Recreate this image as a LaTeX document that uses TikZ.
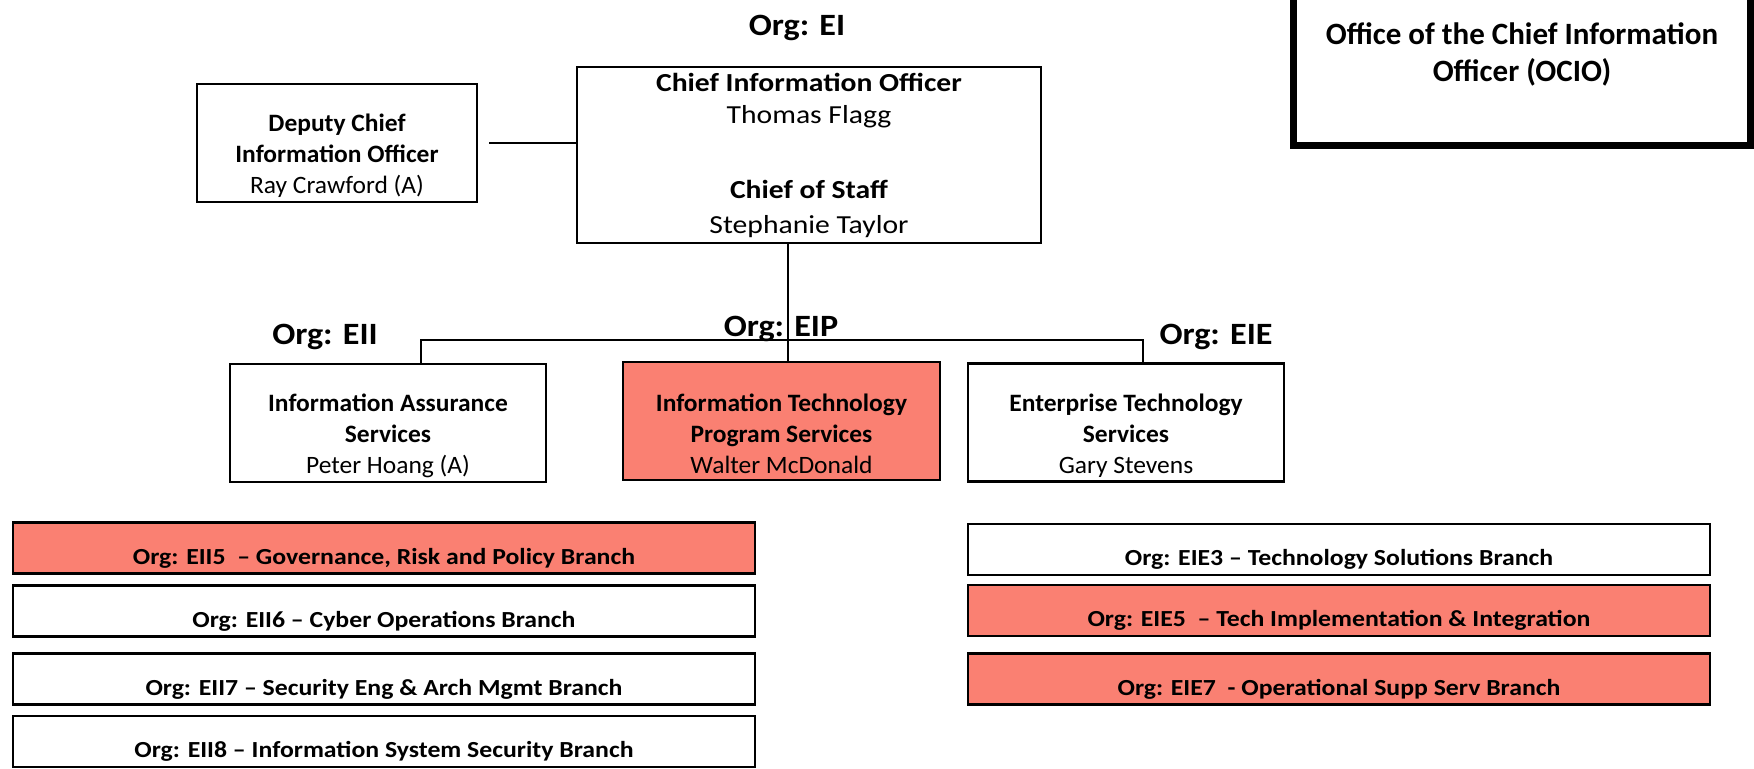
\documentclass[tikz,border=0pt]{standalone}
\usepackage{fontspec}
\setmainfont{Carlito}
\usetikzlibrary{calc}
\usetikzlibrary{positioning}
\definecolor{salmonfill}{RGB}{250,128,114}

\begin{document}
\begin{tikzpicture}
    [   x = 0.5pt
    ,   y = -0.5pt
    ,   unit/.style = {draw, line width = 1.2pt, inner sep = 0pt}
    ,   hl/.style = {fill = salmonfill}
    ,   orgtag/.style = {anchor = base, inner sep = 0pt,
            font = \fontsize{15.5}{18.5}\selectfont\bfseries\addfontfeature{FakeStretch=1.1}}
    ,   unittext/.style = {align = center, inner sep = 0pt, yshift = -6.5pt,
            font = \fontsize{12.5}{15.5}\selectfont\addfontfeature{FakeStretch=1.02}}
    ,   unitbox/.style = {unit, minimum width = 158pt, minimum height = 59pt}
    ,   branch/.style = {unit, minimum width = 371pt, minimum height = 25.5pt}
    ,   branchtext/.style = {inner sep = 0pt, yshift = -5pt,
            font = \fontsize{11.5}{14}\selectfont\bfseries\addfontfeature{FakeStretch=1.12}}
    ,   link/.style = {line width = 1pt}
    ]
    \useasboundingbox (0,0) rectangle (1754,768);

    \node[orgtag] (orgEI) at (797,35) {Org: EI};
    \node[unit, minimum width = 232pt, minimum height = 88pt, align = center,
        font = \fontsize{13}{16}\selectfont\addfontfeature{FakeStretch=1.14}] (cio) at (809,155)
    {\textbf{Chief Information Officer}\\Thomas Flagg\\[21.5pt]
     \textbf{Chief of Staff}\\[1.5pt]Stephanie Taylor};

    \node[unit, minimum width = 140pt, minimum height = 59pt,
        label = {[unittext]center:{\textbf{Deputy Chief}\\\textbf{Information Officer}\\Ray Crawford (A)}}]
        (dcio) at (337,143) {};

    \node[draw, line width = 3.5pt, minimum width = 228.75pt, minimum height = 91pt,
        label = {[align = center, inner sep = 0pt,
            font = \fontsize{15.5}{18.5}\selectfont\bfseries]center:{Office of the Chief Information\\Officer (OCIO)}}]
        (ocio) at (1522,54) {};

    \node[orgtag] (orgEII) at (325,344) {Org: EII};
    \node[orgtag] (orgEIP) at (781,336) {Org: EIP};
    \node[orgtag] (orgEIE) at (1216,344) {Org: EIE};

    \node[unitbox, label = {[unittext]center:{\textbf{Information Assurance}\\\textbf{Services}\\Peter Hoang (A)}}]
        (ias) at (388,423) {};
    \node[unitbox, hl, minimum width = 158.5pt,
        label = {[unittext]center:{\textbf{Information Technology}\\\textbf{Program Services}\\Walter McDonald}}]
        (itps) at (781.5,421) {};
    \node[unitbox, label = {[unittext]center:{\textbf{Enterprise Technology}\\\textbf{Services}\\Gary Stevens}}]
        (ets) at (1126,422.5) {};

    \coordinate (spine) at (788,340);
    \coordinate (busL) at (421,340);
    \coordinate (busR) at (1143,340);

    \draw[link] ([xshift = 5.5pt]dcio.east) -- (dcio.east -| cio.west);
    \draw[link] (cio.south -| spine) -- (spine |- itps.north);
    \draw[link] (ias.north -| busL) -- (busL) -- (busR) -- (ets.north -| busR);

    \node[branch, hl, label = {[branchtext]center:{Org: EII5\ \ – Governance, Risk and Policy Branch}}]
        (eii5) at (384,548) {};
    \node[branch, label = {[branchtext]center:{Org: EII6 – Cyber Operations Branch}}]
        (eii6) at (384,611) {};
    \node[branch, label = {[branchtext]center:{Org: EII7 – Security Eng \& Arch Mgmt Branch}}]
        (eii7) at (384,679) {};
    \node[branch, label = {[branchtext]center:{Org: EII8 – Information System Security Branch}}]
        (eii8) at (384,741.5) {};

    \node[branch, label = {[branchtext]center:{Org: EIE3 – Technology Solutions Branch}}]
        (eie3) at (1339,549.5) {};
    \node[branch, hl, label = {[branchtext]center:{Org: EIE5\ \ – Tech Implementation \& Integration}}]
        (eie5) at (1339,610.5) {};
    \node[branch, hl, label = {[branchtext]center:{Org: EIE7\ \ - Operational Supp Serv Branch}}]
        (eie7) at (1339,679) {};
\end{tikzpicture}
\end{document}
